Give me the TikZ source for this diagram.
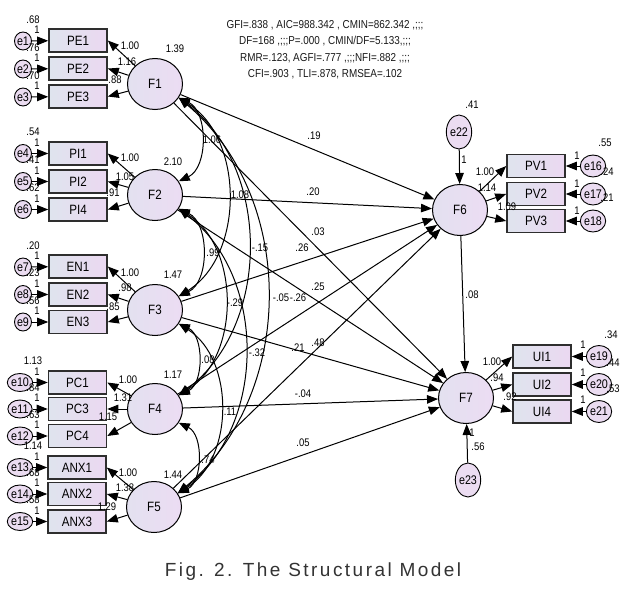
\documentclass[tikz,border=0pt]{standalone}
\usepackage{fontspec}
\setmainfont{Liberation Sans}
\newfontfamily\numfont[FakeStretch=0.86]{Liberation Sans}
\newfontfamily\capfont[LetterSpace=13]{Liberation Sans}
\usetikzlibrary{arrows.meta,shapes.geometric}
\definecolor{boxL}{HTML}{DFE4EE}
\definecolor{boxR}{HTML}{EBD8F1}
\definecolor{ellL}{HTML}{E3E1F0}
\definecolor{ellR}{HTML}{ECDCF3}
\definecolor{errC}{HTML}{EBDCF1}
\definecolor{frameC}{HTML}{2E2E2E}
\newcommand\numl[3]{\node[num] (#1) at (#2) {#3};}
\begin{document}
\begin{tikzpicture}[x=1pt,y=-1pt,
  obs/.style={rectangle,draw=frameC,line width=1.6pt,minimum width=58pt,minimum height=23pt,inner sep=0pt,left color=boxL,right color=boxR,font=\numfont\fontsize{13.5}{13.5}\selectfont},
  lat/.style={ellipse,draw=black,line width=1pt,minimum width=55pt,minimum height=51pt,inner sep=0pt,left color=ellL,right color=ellR,font=\numfont\fontsize{13.5}{13.5}\selectfont},
  err/.style={ellipse,draw=black,line width=0.9pt,inner sep=0pt,fill=errC,minimum width=17pt,minimum height=18pt,font=\numfont\fontsize{12.5}{12.5}\selectfont},
  errw/.style={err,minimum width=20pt},
  errr/.style={err,minimum width=18pt,minimum height=22pt},
  errb/.style={err,minimum width=25pt,minimum height=34pt},
  num/.style={inner sep=0pt,font=\numfont\fontsize{11}{11}\selectfont},
  tip/.tip={Triangle[length=11pt,width=8.5pt]},
  arr/.style={-tip,line width=1pt},
  cov/.style={tip-tip,line width=1pt},
]
\useasboundingbox[fill=white] (0,0) rectangle (634,592);

% fit indices
\node[inner sep=0pt,align=center,text=black!90,font=\numfont\fontsize{11.5}{16.5}\selectfont] (fit) at (325,49.5)
 {GFI=.838 , AIC=988.342 , CMIN=862.342 ,;;;\\
  DF=168 ,;;;P=.000 , CMIN/DF=5.133,;;;\\
  RMR=.123, AGFI=.777 ,;;;NFI=.882 ,;;;\\
  CFI=.903 , TLI=.878, RMSEA=.102};

% latent
\node[lat] (F1) at (155,84) {F1};
\node[lat] (F2) at (155,195) {F2};
\node[lat] (F3) at (155,310) {F3};
\node[lat] (F4) at (155,409) {F4};
\node[lat] (F5) at (154,507) {F5};
\node[lat] (F6) at (460,210) {F6};
\node[lat] (F7) at (466,398) {F7};

% observed left
\node[obs] (PE1) at (78,40.5) {PE1};
\node[obs] (PE2) at (78,68.5) {PE2};
\node[obs] (PE3) at (78,96.5) {PE3};
\node[obs] (PI1) at (78,153.5) {PI1};
\node[obs] (PI2) at (78,181.5) {PI2};
\node[obs] (PI4) at (78,209.5) {PI4};
\node[obs] (EN1) at (78,266.5) {EN1};
\node[obs] (EN2) at (78,294.5) {EN2};
\node[obs] (EN3) at (78,322) {EN3};
\node[obs] (PC1) at (77.5,382.5) {PC1};
\node[obs] (PC3) at (77.5,409) {PC3};
\node[obs] (PC4) at (77.5,436) {PC4};
\node[obs] (ANX1) at (77,467.5) {ANX1};
\node[obs] (ANX2) at (77,494) {ANX2};
\node[obs] (ANX3) at (77,521.5) {ANX3};
% observed right
\node[obs] (PV1) at (536,166) {PV1};
\node[obs] (PV2) at (536,194) {PV2};
\node[obs] (PV3) at (536,221) {PV3};
\node[obs] (UI1) at (542,356.5) {UI1};
\node[obs] (UI2) at (542,384.5) {UI2};
\node[obs] (UI4) at (542,411.5) {UI4};

% errors
\node[err] (e1) at (23,41) {e1};
\node[err] (e2) at (23,69) {e2};
\node[err] (e3) at (23,97) {e3};
\node[err] (e4) at (23,153.5) {e4};
\node[err] (e5) at (23,181.5) {e5};
\node[err] (e6) at (23,209.5) {e6};
\node[err] (e7) at (23,267) {e7};
\node[err] (e8) at (23,294.5) {e8};
\node[err] (e9) at (23,322) {e9};
\node[errw] (e10) at (20,382.5) {e10};
\node[errw] (e11) at (20,409) {e11};
\node[errw] (e12) at (20,436) {e12};
\node[errw] (e13) at (20,467.5) {e13};
\node[errw] (e14) at (20,494) {e14};
\node[errw] (e15) at (20,521.5) {e15};
\node[errr] (e16) at (593,166) {e16};
\node[errr] (e17) at (593,194) {e17};
\node[errr] (e18) at (593,221) {e18};
\node[errr] (e19) at (599,356.5) {e19};
\node[errr] (e20) at (599,384.5) {e20};
\node[errr] (e21) at (599,411.5) {e21};
\node[errb] (e22) at (459,132) {e22};
\node[errb] (e23) at (468,480) {e23};

% error arrows
\foreach \e/\b in {e1/PE1,e2/PE2,e3/PE3,e4/PI1,e5/PI2,e6/PI4,e7/EN1,e8/EN2,e9/EN3,e10/PC1,e11/PC3,e12/PC4,e13/ANX1,e14/ANX2,e15/ANX3,e16/PV1,e17/PV2,e18/PV3,e19/UI1,e20/UI2,e21/UI4}
  \draw[arr] (\e) -- (\b);
\draw[arr] (e22) -- (F6);
\draw[arr] (e23) -- (F7);

% loadings
\foreach \f/\b in {F1/PE1,F1/PE2,F1/PE3,F2/PI1,F2/PI2,F2/PI4,F3/EN1,F3/EN2,F3/EN3,F4/PC1,F4/PC3,F4/PC4,F5/ANX1,F5/ANX2,F5/ANX3}
  \draw[arr] (\f) -- (\b.east);
\foreach \f/\b in {F6/PV1,F6/PV2,F6/PV3,F7/UI1,F7/UI2,F7/UI4}
  \draw[arr] (\f) -- (\b.west);

% structural paths
\foreach \f in {F1,F2,F3,F4,F5}{
  \draw[arr] (\f) -- (F6);
  \draw[arr] (\f) -- (F7);
}
\draw[arr] (F6) -- (F7);

% covariances
\draw[cov] (F1.-30) to[bend left=65] (F2.30);
\draw[cov] (F1.-30) to[bend left=58] (F3.30);
\draw[cov] (F1.-30) to[bend left=53] (F4.30);
\draw[cov] (F1.-30) to[bend left=50] (F5.30);
\draw[cov] (F2.-30) to[bend left=65] (F3.30);
\draw[cov] (F2.-30) to[bend left=58] (F4.30);
\draw[cov] (F2.-30) to[bend left=53] (F5.30);
\draw[cov] (F3.-30) to[bend left=65] (F4.30);
\draw[cov] (F3.-30) to[bend left=58] (F5.30);
\draw[cov] (F4.-30) to[bend left=65] (F5.30);

% error variances and fixed 1s (left)
\numl{v1}{33,19.5}{.68}   \numl{o1}{37,30}{1}
\numl{v2}{33,47.5}{.76}   \numl{o2}{37,58}{1}
\numl{v3}{33,75.5}{.70}   \numl{o3}{37,86}{1}
\numl{v4}{33,132}{.54}    \numl{o4}{37,142.5}{1}
\numl{v5}{33,160}{.41}    \numl{o5}{37,170.5}{1}
\numl{v6}{33,188}{.62}    \numl{o6}{37,198.5}{1}
\numl{v7}{33,245.5}{.20}  \numl{o7}{37,256}{1}
\numl{v8}{33,273}{.23}    \numl{o8}{37,283.5}{1}
\numl{v9}{33,300.5}{.56}  \numl{o9}{37,311}{1}
\numl{v10}{33,360.5}{1.13} \numl{o10}{37,371.5}{1}
\numl{v11}{33,387.5}{.84}  \numl{o11}{37,398}{1}
\numl{v12}{33,414.5}{.63}  \numl{o12}{37,425}{1}
\numl{v13}{33,445.5}{1.14} \numl{o13}{37,456.5}{1}
\numl{v14}{33,472.5}{.68}  \numl{o14}{37,483}{1}
\numl{v15}{33,500}{.58}    \numl{o15}{37,510.5}{1}
% right
\numl{v16}{605,143}{.55} \numl{o16}{577,156}{1}
\numl{v17}{607,172}{.24} \numl{o17}{577,184}{1}
\numl{v18}{607,198}{.21} \numl{o18}{577,211}{1}
\numl{v19}{611,335}{.34} \numl{o19}{583,345}{1}
\numl{v20}{613,363}{.44} \numl{o20}{583,373}{1}
\numl{v21}{613,389}{.53} \numl{o21}{583,400}{1}
\numl{v22}{472,105}{.41} \numl{o22}{464,160}{1}
\numl{v23}{478,447}{.56} \numl{o23}{472,433}{1}

% factor variances
\numl{w1}{175,49}{1.39}
\numl{w2}{173,162}{2.10}
\numl{w3}{173,275}{1.47}
\numl{w4}{173,375}{1.17}
\numl{w5}{173,475}{1.44}

% loadings labels
\numl{a1}{130,46}{1.00}  \numl{a2}{127,62}{1.16}  \numl{a3}{115,80}{.88}
\numl{b1}{130,158}{1.00} \numl{b2}{125,177}{1.05} \numl{b3}{113,193}{.91}
\numl{c1}{130,273}{1.00} \numl{c2}{125,288}{.98}  \numl{c3}{113,307}{.85}
\numl{d1}{128,380}{1.00} \numl{d2}{123,398}{1.31} \numl{d3}{108,417}{1.15}
\numl{g1}{128,473}{1.00} \numl{g2}{125,488}{1.38} \numl{g3}{107,507}{1.29}
\numl{h1}{485,172}{1.00} \numl{h2}{487,188}{1.14} \numl{h3}{507,207}{1.09}
\numl{k1}{492,362}{1.00} \numl{k2}{497,378}{.94}  \numl{k3}{510,397}{.92}

% structural labels
\numl{s16}{314,136}{.19}
\numl{s26}{313,192}{.20}
\numl{s17}{318,232}{.03}
\numl{s36}{302,248}{.26}
\numl{s27}{318,287}{.25}
\numl{s46}{298,298}{-.26}
\numl{s56}{318,343}{.48}
\numl{s37}{298,348}{.21}
\numl{s47}{303,394}{-.04}
\numl{s57}{303,443}{.05}
\numl{s67}{472,295}{.08}

% covariance labels
\numl{c12}{212,140}{1.06}
\numl{c13}{240,195}{1.08}
\numl{c14}{260,248}{-.15}
\numl{c15}{281,298}{-.05}
\numl{c23}{213,253}{.99}
\numl{c24}{235,303}{-.29}
\numl{c25}{257,353}{-.32}
\numl{c34}{208,360}{.08}
\numl{c35}{230,412}{.11}
\numl{c45}{208,460}{.74}

% caption
\node[inner sep=0pt,text=black!80,font=\capfont\fontsize{19}{19}\selectfont] (cap) at (313,572) {Fig. 2. The Structural Model};
\end{tikzpicture}
\end{document}
